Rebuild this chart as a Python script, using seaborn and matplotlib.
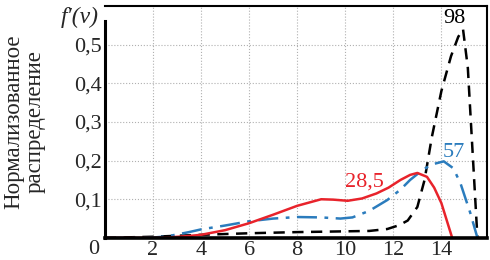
import matplotlib
matplotlib.use("Agg")
import matplotlib.pyplot as plt
import seaborn as sns
import pandas as pd

# data
x98 = [0, 2, 4, 6, 8, 10, 11, 11.75, 12.25, 12.6, 13, 13.3, 13.6, 14, 14.4, 14.7, 14.9, 15.1, 15.3, 15.5]
y98 = [0, 0.003, 0.008, 0.012, 0.015, 0.017, 0.018, 0.023, 0.033, 0.045, 0.08, 0.15, 0.26, 0.38, 0.47, 0.52, 0.54, 0.44, 0.22, 0.0]

x57 = [0, 1, 2, 2.6, 3.5, 4, 5, 6, 7, 8, 9, 9.8, 10.3, 11, 11.75, 12.3, 12.7, 13.2, 13.6, 14.1, 14.5, 14.8, 15.2, 15.5]
y57 = [0, 0, 0.001, 0.004, 0.015, 0.022, 0.032, 0.043, 0.05, 0.054, 0.053, 0.05, 0.053, 0.07, 0.098, 0.125, 0.15, 0.175, 0.19, 0.198, 0.18, 0.14, 0.065, 0.0]

x285 = [0, 2, 2.6, 3.5, 4, 5, 6, 7, 8, 9, 9.5, 10.1, 10.7, 11.3, 11.8, 12.3, 12.7, 13.0, 13.4, 13.7, 14.0, 14.2, 14.45]
y285 = [0, 0, 0.001, 0.005, 0.008, 0.02, 0.038, 0.06, 0.083, 0.1, 0.099, 0.096, 0.102, 0.115, 0.13, 0.15, 0.163, 0.168, 0.158, 0.13, 0.09, 0.05, 0.0]

xticks = [2, 4, 6, 8, 10, 12, 14]
yticks = [0.1, 0.2, 0.3, 0.4, 0.5]
ytick_labels = ["0,1", "0,2", "0,3", "0,4", "0,5"]
series_labels = ["98", "57", "28,5"]

sns.set_style("white")
plt.rcParams["font.family"] = ["Liberation Serif", "DejaVu Serif"]

SERIF = ["Liberation Serif", "DejaVu Serif"]

fig = plt.figure(figsize=(4.9, 2.6), dpi=100)
ax = fig.add_axes([0.214, 0.085, 0.78, 0.892])

red = "#e8232b"
blue = "#2b7cbd"

d98 = pd.DataFrame({"x": x98, "y": y98})
d57 = pd.DataFrame({"x": x57, "y": y57})
d285 = pd.DataFrame({"x": x285, "y": y285})

sns.lineplot(data=d98, x="x", y="y", ax=ax, color="black", lw=1.8, sort=False,
             estimator=None)
ax.lines[-1].set_dashes([4.5, 3])
sns.lineplot(data=d57, x="x", y="y", ax=ax, color=blue, lw=1.8, sort=False,
             estimator=None)
ax.lines[-1].set_dashes([8, 3, 1.5, 3])
sns.lineplot(data=d285, x="x", y="y", ax=ax, color=red, lw=1.8, sort=False,
             estimator=None)

ax.set_xlim(0, 15.9)
ax.set_ylim(0, 0.60)
ax.set_xticks(xticks)
ax.set_xticklabels([str(t) for t in xticks], family=SERIF, fontsize=16)
ax.set_yticks(yticks)
ax.set_yticklabels(ytick_labels, family=SERIF, fontsize=16)
ax.tick_params(length=0, pad=2)
ax.grid(True, color="#b0b0b0", linestyle=":", linewidth=0.8)
ax.set_xlabel("")
ax.set_ylabel("Нормализованное\nраспределение", fontsize=16.5,
              linespacing=1.0, family=SERIF)
ax.yaxis.set_label_coords(-0.155, 0.5)

for side, lw in [("left", 2.2), ("bottom", 2.6), ("top", 1.5), ("right", 1.5)]:
    ax.spines[side].set_linewidth(lw)
    ax.spines[side].set_color("black")
ax.spines["left"].set_bounds(0, 0.56)

ax.annotate("0", xy=(0, 0), xytext=(-4, -8), textcoords="offset points",
            ha="right", va="center", fontsize=16, family=SERIF)
ax.text(-0.25, 0.57, "f\u2032(v)", ha="right", va="center", fontsize=17,
        style="italic", family=SERIF, clip_on=False)

ax.text(14.55, 0.568, series_labels[0], color="black", fontsize=16, ha="center", va="center", family=SERIF)
ax.text(14.5, 0.222, series_labels[1], color=blue, fontsize=16, ha="center", va="center", family=SERIF)
ax.text(10.8, 0.144, series_labels[2], color=red, fontsize=16, ha="center", va="center", family=SERIF)

fig.savefig("out.png", dpi=100)
